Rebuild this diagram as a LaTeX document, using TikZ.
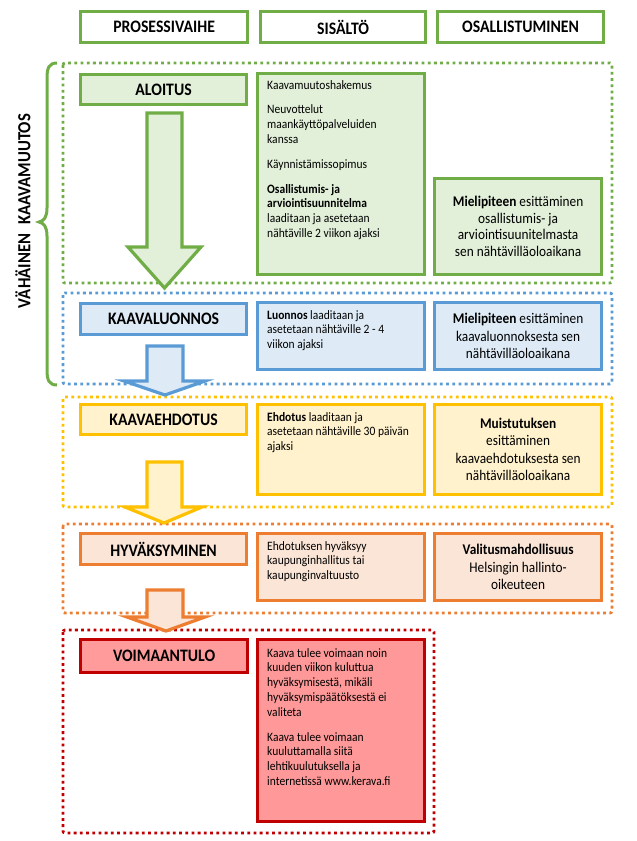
\documentclass[tikz,border=0pt]{standalone}
\usepackage{fontspec}
\setmainfont[FakeStretch=0.9]{Carlito}
\definecolor{gB}{HTML}{70AD47}\definecolor{gF}{HTML}{E2F0D9}
\definecolor{bB}{HTML}{5B9BD5}\definecolor{bF}{HTML}{DEEBF7}
\definecolor{yB}{HTML}{FFC000}\definecolor{yF}{HTML}{FFF2CC}
\definecolor{oB}{HTML}{ED7D31}\definecolor{oF}{HTML}{FBE5D6}
\definecolor{rB}{HTML}{C00000}\definecolor{rF}{HTML}{FF9999}
\definecolor{rL}{HTML}{FF9B9B}
\tikzset{
  box/.style 2 args={draw=#1, fill=#2, line width=3.2pt, inner sep=0pt, anchor=north west},
  grp/.style={draw=#1, line width=2.8pt, dash pattern=on 2.8pt off 3.4pt, rounded corners=2pt},
  lbl/.style={font=\fontsize{17.5}{20}\selectfont\bfseries, align=center},
  hdr/.style={font=\fontsize{17.5}{20}\selectfont\bfseries},
  ctext/.style={font=\fontsize{12.8}{14.8}\selectfont, align=left, inner sep=0pt, anchor=north west},
  ptext/.style={font=\fontsize{14.8}{17.5}\selectfont, align=center},
  blockarrow/.style 2 args={draw=#1, fill=#2, line width=3.2pt},
}
\begin{document}
\begin{tikzpicture}[x={(1pt,0)}, y={(0,-1pt)}]
\useasboundingbox (0,0) rectangle (637,841);

% header
\node[box={gB}{white}, minimum width=167pt, minimum height=31pt, hdr] (h1) at (79,10) {PROSESSIVAIHE};
\node[box={gB}{white}, minimum width=165pt, minimum height=31pt, hdr] (h2) at (259,10) {SISÄLTÖ};
\node[box={gB}{white}, minimum width=166pt, minimum height=31pt, hdr] (h3) at (436,10) {OSALLISTUMINEN};

% groups
\draw[grp=gB] (63,63) rectangle (612,283);
\draw[grp=bB] (63,293) rectangle (612,384);
\draw[grp=yB] (63,397) rectangle (612,507);
\draw[grp=oB] (63,524) rectangle (612,613);
\draw[grp=rB] (63,630) rectangle (434,833);

% brace and title
\draw[gB, line width=3pt] (57,63) .. controls (49,63) and (47,68) .. (47,78) -- (47,208)
  .. controls (47,217) and (44,221) .. (39,222) .. controls (44,223) and (47,227) .. (47,236)
  -- (47,370) .. controls (47,380) and (49,385) .. (57,385);
\node[font=\fontsize{18.5}{21}\selectfont\bfseries, rotate=90] (title) at (23,211) {VÄHÄINEN\hspace{0.5em}KAAVAMUUTOS};

% ALOITUS
\node[box={gB}{gF}, minimum width=166pt, minimum height=30pt, lbl] (l1) at (79,73) {ALOITUS};
\node[box={gB}{gF}, minimum width=167pt, minimum height=201pt] (c1) at (256,72) {};
\node[ctext] (t1) at ([xshift=11pt,yshift=-8pt]c1.north west) {Kaavamuutoshakemus\\[10pt]
Neuvottelut\\ maankäyttöpalveluiden\\ kanssa\\[10pt]
Käynnistämissopimus\\[10pt]
\textbf{Osallistumis- ja}\\ \textbf{arviointisuunnitelma}\\ laaditaan ja asetetaan\\ nähtäville 2 viikon ajaksi};
\node[box={gB}{gF}, minimum width=167pt, minimum height=96pt, ptext, font=\fontsize{14.8}{16.5}\selectfont] (p1) at (433,177) {\textbf{Mielipiteen} esittäminen\\ osallistumis- ja\\ arviointisuunitelmasta\\ sen nähtävilläoloaikana};

% KAAVALUONNOS
\node[box={bB}{bF}, minimum width=166pt, minimum height=31pt, lbl] (l2) at (79,302) {KAAVALUONNOS};
\node[box={bB}{bF}, minimum width=167pt, minimum height=67pt] (c2) at (256,301) {};
\node[ctext] (t2) at ([xshift=11pt,yshift=-9pt]c2.north west) {\textbf{Luonnos} laaditaan ja\\ asetetaan nähtäville 2 - 4\\ viikon ajaksi};
\node[box={bB}{bF}, minimum width=167pt, minimum height=67pt, ptext] (p2) at (433,301) {\textbf{Mielipiteen} esittäminen\\ kaavaluonnoksesta sen\\ nähtävilläoloaikana};

% KAAVAEHDOTUS
\node[box={yB}{yF}, minimum width=166pt, minimum height=30pt, lbl] (l3) at (79,403) {KAAVAEHDOTUS};
\node[box={yB}{yF}, minimum width=167pt, minimum height=90pt] (c3) at (256,403) {};
\node[ctext] (t3) at ([xshift=11pt,yshift=-9pt]c3.north west) {\textbf{Ehdotus} laaditaan ja\\ asetetaan nähtäville 30 päivän\\ ajaksi};
\node[box={yB}{yF}, minimum width=167pt, minimum height=90pt, ptext] (p3) at (433,403) {\textbf{Muistutuksen}\\ esittäminen\\ kaavaehdotuksesta sen\\ nähtävilläoloaikana};

% HYVÄKSYMINEN
\node[box={oB}{oF}, minimum width=166pt, minimum height=31pt, lbl] (l4) at (79,532) {HYVÄKSYMINEN};
\node[box={oB}{oF}, minimum width=167pt, minimum height=67pt] (c4) at (256,532) {};
\node[ctext] (t4) at ([xshift=11pt,yshift=-9pt]c4.north west) {Ehdotuksen hyväksyy\\ kaupunginhallitus tai\\ kaupunginvaltuusto};
\node[box={oB}{oF}, minimum width=167pt, minimum height=67pt, ptext] (p4) at (433,532) {\textbf{Valitusmahdollisuus}\\ Helsingin hallinto-\\ oikeuteen};

% VOIMAANTULO
\node[box={rB}{rL}, minimum width=167pt, minimum height=33pt, lbl] (l5) at (79,638) {VOIMAANTULO};
\node[box={rB}{rF}, minimum width=167pt, minimum height=182pt] (c5) at (256,638) {};
\node[ctext] (t5) at ([xshift=11pt,yshift=-10pt]c5.north west) {Kaava tulee voimaan noin\\ kuuden viikon kuluttua\\ hyväksymisestä, mikäli\\ hyväksymispäätöksestä ei\\ valiteta\\[10pt]
Kaava tulee voimaan\\ kuuluttamalla siitä\\ lehtikuulutuksella ja\\ internetissä www.kerava.fi};

% block arrows
\draw[blockarrow={gB}{gF}] (147,113) -- (182,113) -- (182,247) -- (201,247) -- (164.5,288) -- (128,247) -- (147,247) -- cycle;
\draw[blockarrow={bB}{bF}] (147,346) -- (183,346) -- (183,381) -- (205,381) -- (165,395) -- (124,381) -- (147,381) -- cycle;
\draw[blockarrow={yB}{yF}] (147,462) -- (182,462) -- (182,507) -- (202,507) -- (164,523) -- (125,507) -- (147,507) -- cycle;
\draw[blockarrow={oB}{oF}] (147,590) -- (183,590) -- (183,617) -- (205,617) -- (166,631) -- (127,617) -- (147,617) -- cycle;
\end{tikzpicture}
\end{document}
